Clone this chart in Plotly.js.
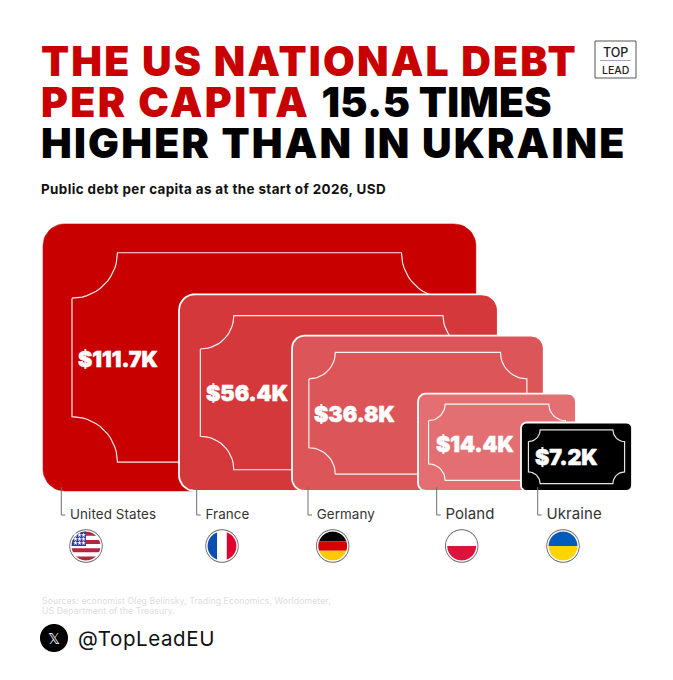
<!DOCTYPE html>
<html><head><meta charset="utf-8">
<script src="https://cdn.plot.ly/plotly-3.0.1.min.js"></script>
<style>html,body{margin:0;padding:0;background:#fff}#chart{width:673px;height:680px}</style>
</head><body><div id="chart"></div>
<script>
// ---- data ----
const countries = ["United States", "France", "Germany", "Poland", "Ukraine"];
const debtPerCapitaK = [111.7, 56.4, 36.8, 14.4, 7.2];
const valueLabels = ["$111.7K", "$56.4K", "$36.8K", "$14.4K", "$7.2K"];
const titleRed1 = "THE US NATIONAL DEBT";
const titleRed2 = "PER CAPITA";
const titleBlack2 = "15.5 TIMES";
const titleBlack3 = "HIGHER THAN IN UKRAINE";
const subtitle = "Public debt per capita as at the start of 2026, USD";
const sources = ["Sources: economist Oleg Belinsky, Trading Economics, Worldometer,", "US Department of the Treasury."];
const handle = "@TopLeadEU";

// ---- layout and style (separate from the data) ----
const noteLeft = [43, 179, 292, 418, 521];
const noteFit = [0.987, 1.023, 1, 1.003, 0.997];   // small fit of the drawn size to the picture
const labelDx = [35, 27, 22, 18, 14];
const labelDy = [0, 0, 1, 3, 2];
const noteFill = ["#c80000", "#d5383b", "#dc5558", "#e36f73", "#000000"];
const leaderX = [61.3, 196.7, 308, 436.7, 537.7];
const flagX = [86, 222, 332.7, 461.7, 563];
const nameSize = [13.4, 13.4, 13.4, 15, 15];
const BASE = 491, FLAGY = 546, K = 41.5, ASPECT = 0.617;
const FONT = "Inter, 'Open Sans', sans-serif";
const spaced = (t, px, extra) => `<span style="letter-spacing:${px}px;${extra || ""}">${t}</span>`;

const traces = [];
const noLine = {hoverinfo: "skip", showlegend: false};

function roundedRect(x0, y0, x1, y1, r) {
  const xs = [], ys = [];
  [[x1 - r, y0 + r, -90], [x1 - r, y1 - r, 0], [x0 + r, y1 - r, 90], [x0 + r, y0 + r, 180]].forEach(c => {
    for (let i = 0; i <= 10; i++) {
      const a = (c[2] + i * 9) * Math.PI / 180;
      xs.push(c[0] + r * Math.cos(a)); ys.push(c[1] + r * Math.sin(a));
    }
  });
  xs.push(xs[0]); ys.push(ys[0]);
  return {xs, ys};
}
function notchedFrame(x0, y0, x1, y1, r) {
  const xs = [], ys = [];
  [[x0, y0, 90, -90], [x1, y0, 180, -90], [x1, y1, 270, -90], [x0, y1, 360, -90]].forEach(c => {
    for (let i = 0; i <= 14; i++) {
      const a = (c[2] + c[3] * i / 14) * Math.PI / 180;
      xs.push(c[0] + r * Math.cos(a)); ys.push(c[1] + r * Math.sin(a));
    }
  });
  xs.push(xs[0]); ys.push(ys[0]);
  return {xs, ys};
}
function clippedDisc(cx, cy, r, x0, x1, y0, y1) {
  const xs = [], ys = [];
  for (let i = 0; i <= 72; i++) {
    const a = i * 5 * Math.PI / 180;
    xs.push(Math.min(x1, Math.max(x0, cx + r * Math.cos(a))));
    ys.push(Math.min(y1, Math.max(y0, cy + r * Math.sin(a))));
  }
  return {xs, ys};
}
function addFill(p, color) {
  traces.push(Object.assign({type: "scatter", mode: "none", x: p.xs, y: p.ys, fill: "toself", fillcolor: color}, noLine));
}

// notes: area proportional to the value
const noteW = debtPerCapitaK.map((v, i) => K * Math.sqrt(v) * noteFit[i]);
const noteH = noteW.map(w => w * ASPECT);
countries.forEach((c, i) => {
  const w = noteW[i], h = noteH[i], x0 = noteLeft[i], x1 = x0 + w, y0 = BASE - h;
  const body = roundedRect(x0, y0, x1, BASE, 0.05 * w);
  traces.push(Object.assign({type: "scatter", mode: "lines", x: body.xs, y: body.ys, fill: "toself",
    fillcolor: noteFill[i], line: {color: i === 0 ? noteFill[0] : "#ffffff", width: i === 0 ? 0.5 : 1.8}}, noLine));
  const insetX = 0.067 * w, insetY = 0.108 * h;
  const fr = notchedFrame(x0 + insetX, y0 + insetY, x1 - insetX, BASE - insetY, 0.105 * w);
  traces.push(Object.assign({type: "scatter", mode: "lines", x: fr.xs, y: fr.ys,
    line: {color: i === 4 ? "#e4e4e4" : "rgba(255,255,255,0.92)", width: 1.2}}, noLine));
});

// value labels
traces.push(Object.assign({type: "scatter", mode: "text",
  x: noteLeft.map((x, i) => x + labelDx[i]),
  y: noteH.map((h, i) => BASE - 0.485 * h + labelDy[i]),
  text: valueLabels.map(t => `<span style="stroke:#ffffff;stroke-width:0.5px">${t}</span>`),
  textposition: "middle right",
  textfont: {family: FONT, size: 21.5, color: "#ffffff", weight: 900}}, noLine));

// leader lines
countries.forEach((c, i) => {
  traces.push(Object.assign({type: "scatter", mode: "lines",
    x: [leaderX[i], leaderX[i], leaderX[i] + 4], y: [487, 515, 515],
    line: {color: "#6e6e6e", width: 1}}, noLine));
});
// country names
traces.push(Object.assign({type: "scatter", mode: "text",
  x: leaderX.map(x => x + 8.7), y: countries.map(() => 515.5),
  text: countries.map(t => spaced(t, 0.1)), textposition: "middle right",
  textfont: {family: FONT, size: nameSize, color: "#333333"}}, noLine));

// flags
function disc(cx, color, r) { addFill(clippedDisc(cx, FLAGY, r, -1e4, 1e4, -1e4, 1e4), color); }
flagX.forEach(cx => { disc(cx, "#6a6a6a", 16.7); disc(cx, "#ffffff", 15.8); });
const R = 14.4;
const band = (cx, x0, x1, y0, y1, color) => addFill(clippedDisc(cx, FLAGY, R, cx + x0, cx + x1, FLAGY + y0, FLAGY + y1), color);
// US
disc(flagX[0], "#ffffff", R);
for (let s = 0; s < 4; s++) band(flagX[0], -R, R, -R + s * 8.3, -R + s * 8.3 + 4.1, "#b3263f");
band(flagX[0], -R, 0, -R, 0, "#2f3f8f");
const starX = [], starY = [];
[-10.5, -6.5, -2.5].forEach(dx => [-11, -7, -3].forEach(dy => { starX.push(flagX[0] + dx); starY.push(FLAGY + dy); }));
traces.push(Object.assign({type: "scatter", mode: "markers", x: starX, y: starY,
  marker: {symbol: "star", size: 3.6, color: "#ffffff"}}, noLine));
// France
band(flagX[1], -R, -R / 3, -R, R, "#0a4fb0"); band(flagX[1], -R / 3, R / 3, -R, R, "#ffffff"); band(flagX[1], R / 3, R, -R, R, "#e0002d");
// Germany
band(flagX[2], -R, R, -R, -R / 3, "#000000"); band(flagX[2], -R, R, -R / 3, R / 3, "#d50000"); band(flagX[2], -R, R, R / 3, R, "#fdc900");
// Poland
band(flagX[3], -R, R, -R, 0, "#ffffff"); band(flagX[3], -R, R, 0, R, "#dc143c");
// Ukraine
band(flagX[4], -R, R, -R, 0, "#005bbb"); band(flagX[4], -R, R, 0, R, "#ffd500");
// X badge
addFill(clippedDisc(54, 638, 14, -1e4, 1e4, -1e4, 1e4), "#000000");

const ann = (text, x, y, size, color, weight, extra) => Object.assign({
  text, x, y, xref: "x", yref: "y", xanchor: "left", yanchor: "middle", showarrow: false,
  font: {family: FONT, size, color, weight}}, extra || {});

const TS = 2.2, RED = "color:#c80000;";
const annotations = [
  ann(spaced(titleRed1, TS, RED), 39, 61, 41, "#000000", 900),
  ann(spaced(titleRed2, TS + 0.2, RED) + spaced(" ", 3) + spaced(titleBlack2, 0.3), 39, 102, 41, "#000000", 900),
  ann(spaced(titleBlack3, TS), 39, 143, 41, "#000000", 900),
  ann(spaced(subtitle, 0.4), 38.5, 189, 13.4, "#111111", 700),
  ann(spaced(sources[0], 0.09), 39.5, 601, 8.7, "#dddddd", 400),
  ann(spaced(sources[1], 0.09), 39.5, 610.5, 8.7, "#dddddd", 400),
  ann(spaced(handle, 0.6), 76, 638.5, 20.5, "#111111", 400),
  ann("𝕏", 54, 638, 15, "#ffffff", 400, {xanchor: "center"}),
  ann("TOP", 615.5, 52, 12.5, "#222222", 500, {xanchor: "center"}),
  ann("LEAD", 615.5, 70, 10.5, "#222222", 500, {xanchor: "center"})
];
const shapes = [
  {type: "rect", xref: "x", yref: "y", x0: 595, x1: 636, y0: 41, y1: 78, line: {color: "#555555", width: 1}},
  {type: "line", xref: "x", yref: "y", x0: 600, x1: 631, y0: 60.5, y1: 60.5, line: {color: "#9a86b0", width: 0.8}}
];

Plotly.newPlot("chart", traces, {
  width: 673, height: 680, margin: {l: 0, r: 0, t: 0, b: 0},
  paper_bgcolor: "#ffffff", plot_bgcolor: "#ffffff", showlegend: false,
  xaxis: {range: [0, 673], visible: false, fixedrange: true},
  yaxis: {range: [680, 0], visible: false, fixedrange: true},
  annotations, shapes
}, {displayModeBar: false, staticPlot: true});
</script></body></html>
